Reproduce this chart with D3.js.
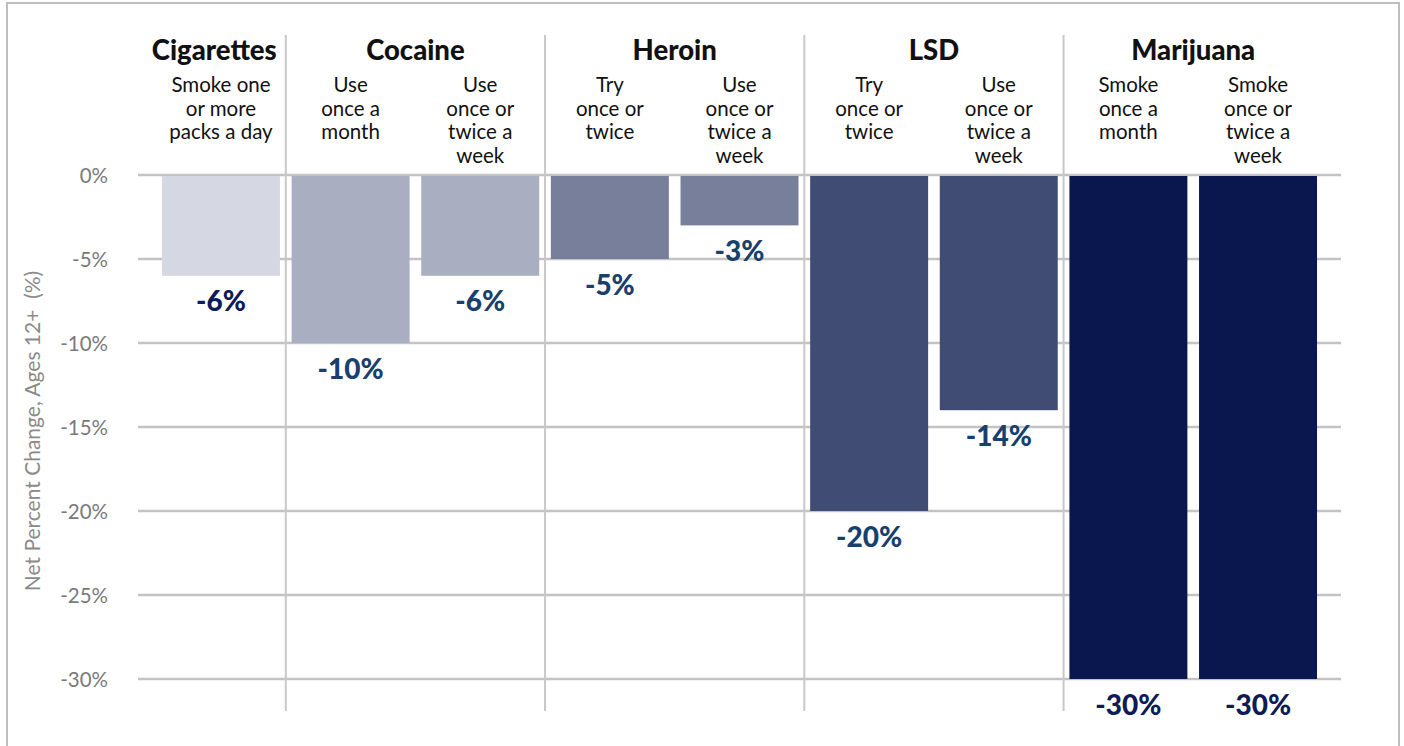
<!DOCTYPE html>
<html><head><meta charset="utf-8">
<script src="https://cdn.jsdelivr.net/npm/d3@7"></script>
<style>
html,body{margin:0;padding:0;background:#fff;}
svg{display:block;font-family:Lato,"Open Sans",sans-serif;}
</style></head>
<body>
<svg id="chart" width="1404" height="746"></svg>
<script>
// ---- data ----
const groups = ["Cigarettes","Cocaine","Heroin","LSD","Marijuana"];
const barGroups = ["Cigarettes","Cocaine","Cocaine","Heroin","Heroin","LSD","LSD","Marijuana","Marijuana"];
const barLabels = [
  ["Smoke one","or more","packs a day"],
  ["Use","once a","month"],
  ["Use","once or","twice a","week"],
  ["Try","once or","twice"],
  ["Use","once or","twice a","week"],
  ["Try","once or","twice"],
  ["Use","once or","twice a","week"],
  ["Smoke","once a","month"],
  ["Smoke","once or","twice a","week"]
];
const values = [-6,-10,-6,-5,-3,-20,-14,-30,-30];
const yTicks = [0,-5,-10,-15,-20,-25,-30];
const yTitle = "Net Percent Change, Ages 12+  (%)";

// ---- styles ----
const barColor = {Cigarettes:"#d5d8e2",Cocaine:"#a9aec0",Heroin:"#777f9b",LSD:"#414c75",Marijuana:"#0a164e"};
const labelColor = {Cigarettes:"#0e1b56",Cocaine:"#17406d",Heroin:"#17406d",LSD:"#17406d",Marijuana:"#0e1b56"};

const svg = d3.select("#chart");
// outer frame
svg.append("rect").attr("x",7).attr("y",3).attr("width",1392).attr("height",760)
  .attr("fill","none").attr("stroke","#bfbfbf").attr("stroke-width",2);

const idx = d3.range(values.length);
const x = d3.scaleBand().domain(idx).range([138,1341]).paddingInner(0.09).paddingOuter(0.185);
const y = d3.scaleLinear().domain([0,-30]).range([175,679]);

// gridlines
svg.append("g").selectAll("line").data(yTicks).join("line")
  .attr("x1",138).attr("x2",1341)
  .attr("y1",d=>y(d)).attr("y2",d=>y(d))
  .attr("stroke","#c3c3c3").attr("stroke-width",2.5);

// y axis labels
const yAxis = d3.axisLeft(y).tickValues(yTicks).tickFormat(d=>d+"%").tickSize(0).tickPadding(0);
const ya = svg.append("g").attr("transform","translate(108,0)").call(yAxis);
ya.select(".domain").remove();
ya.selectAll("text").attr("font-size",20.5).attr("fill","#7a7a7a").attr("font-family","Lato,sans-serif").attr("dy","0.35em");

// y title
svg.append("text").attr("transform","translate(40,431) rotate(-90)")
  .attr("text-anchor","middle").attr("font-size",21).attr("fill","#8a8a8a")
  .attr("xml:space","preserve").text(yTitle);

// group separators
const sepIdx = [];
for (let i=1;i<barGroups.length;i++) if (barGroups[i]!==barGroups[i-1]) sepIdx.push(i);
const sepX = i => (x(i-1)+x.bandwidth()+x(i))/2;
svg.append("g").selectAll("line").data(sepIdx).join("line")
  .attr("x1",sepX).attr("x2",sepX)
  .attr("y1",35).attr("y2",711).attr("stroke","#c8c8c8").attr("stroke-width",2);

// bars
svg.append("g").selectAll("rect").data(idx).join("rect")
  .attr("x",i=>x(i)).attr("width",x.bandwidth())
  .attr("y",y(0)+1).attr("height",i=>y(values[i])-y(0)-1)
  .attr("fill",i=>barColor[barGroups[i]]);

// value labels
svg.append("g").selectAll("text").data(idx).join("text")
  .attr("x",i=>x(i)+x.bandwidth()/2).attr("y",i=>y(values[i])+35.5)
  .attr("text-anchor","middle").attr("font-size",28).attr("font-weight",900)
  .attr("fill",i=>labelColor[barGroups[i]])
  .text(i=>values[i]+"%");

// group headers (kept clear of the separator on their right)
svg.append("g").selectAll("text").data(groups).join("text")
  .attr("y",60).attr("text-anchor","middle").attr("font-size",27.5).attr("font-weight",900)
  .attr("fill","#111").text(d=>d)
  .each(function(g){
    const ii=idx.filter(i=>barGroups[i]===g);
    let cx=(x(ii[0])+x(ii[ii.length-1])+x.bandwidth())/2;
    const last=ii[ii.length-1];
    const w=this.getComputedTextLength();
    if (last+1<values.length){
      const limit=sepX(last+1)-9;
      if (cx+w/2>limit) cx=limit-w/2;
    }
    d3.select(this).attr("x",cx);
  });

// sub labels
const sub = svg.append("g");
idx.forEach(i=>{
  const t = sub.append("text").attr("text-anchor","middle").attr("font-size",20.5).attr("fill","#111");
  barLabels[i].forEach((ln,k)=>{
    t.append("tspan").attr("x",x(i)+x.bandwidth()/2).attr("y",92+k*23.5).text(ln);
  });
});
</script>
</body></html>
